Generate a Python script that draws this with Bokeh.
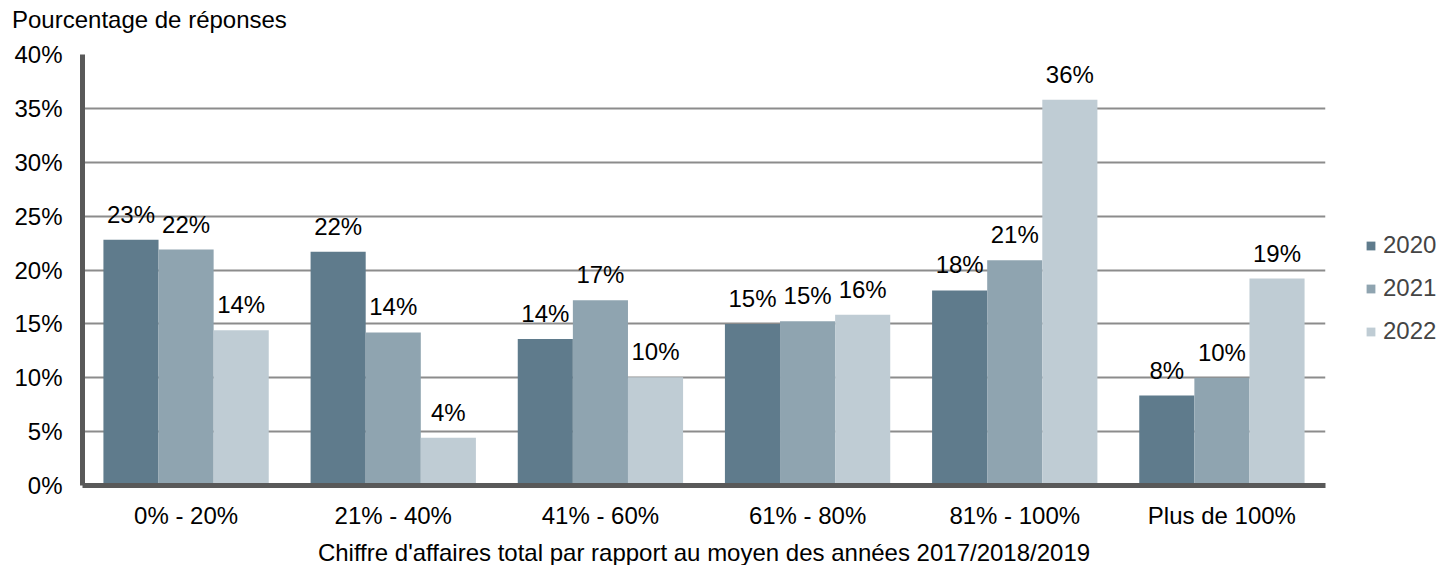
from bokeh.plotting import figure
from bokeh.layouts import column
from bokeh.models import (ColumnDataSource, FactorRange, Range1d, FixedTicker, Div,
                          PrintfTickFormatter, LabelSet, Legend, LegendItem)
from bokeh.core.properties import value
from bokeh.transform import dodge
from bokeh.embed import file_html
from bokeh.resources import INLINE

categories = ["0% - 20%", "21% - 40%", "41% - 60%", "61% - 80%", "81% - 100%", "Plus de 100%"]
years = ["2020", "2021", "2022"]
v2020 = [22.8, 21.7, 13.6, 15.0, 18.1, 8.35]
v2021 = [21.9, 14.2, 17.2, 15.25, 20.9, 10.0]
v2022 = [14.4, 4.44, 10.05, 15.85, 35.8, 19.2]
y_ticks = [0, 5, 10, 15, 20, 25, 30, 35, 40]
title_text = "Pourcentage de réponses"
x_title = "Chiffre d'affaires total par rapport au moyen des années 2017/2018/2019"

colors = ["#5f7b8c", "#8fa4b0", "#bfccd4"]
FONT = "Liberation Sans"
FS = "24px"

series = [v2020, v2021, v2022]
data = {"cat": categories}
for y, vals in zip(years, series):
    data[y] = vals
    data["lab" + y] = [f"{round(v)}%" for v in vals]
src = ColumnDataSource(data)

title_div = Div(text=title_text, width=600, height=40,
                styles={"font-family": FONT, "font-size": FS, "line-height": "40px",
                        "padding-left": "12px", "color": "black", "margin": "0"})

p = figure(x_range=FactorRange(*categories), y_range=Range1d(0, 40),
           frame_width=1243, frame_height=431,
           min_border_left=82, min_border_right=113, min_border_top=14, min_border_bottom=80,
           output_backend="svg", toolbar_location=None)

bw = 0.266
offsets = [-bw, 0, bw]
items = []
for y, off, c in zip(years, offsets, colors):
    r = p.vbar(x=dodge("cat", off, range=p.x_range), top=y, width=bw, source=src,
               fill_color=c, line_color=None)
    items.append(LegendItem(label=y, renderers=[r]))
    ls = LabelSet(x=dodge("cat", off, range=p.x_range), y=y, text="lab" + y, source=src,
                  text_align="center", text_baseline="alphabetic", y_offset=17,
                  text_font=value(FONT), text_font_size=value(FS), text_color="black")
    p.add_layout(ls)

legend = Legend(items=items, location=(40, 140), orientation="vertical",
                glyph_width=11, glyph_height=11, label_height=21, spacing=15,
                label_standoff=7, padding=0, margin=0,
                label_text_font=FONT, label_text_font_size=FS,
                border_line_color=None, background_fill_alpha=0)
p.add_layout(legend, "right")

p.yaxis.ticker = FixedTicker(ticks=y_ticks)
p.yaxis.formatter = PrintfTickFormatter(format="%d%%")
for ax in [p.xaxis[0], p.yaxis[0]]:
    ax.axis_line_color = "#595959"
    ax.axis_line_width = 5
    ax.major_tick_line_color = None
    ax.minor_tick_line_color = None
    ax.major_tick_out = 0
    ax.major_tick_in = 0
    ax.major_label_text_font = FONT
    ax.major_label_text_font_size = FS
    ax.major_label_text_color = "black"
p.yaxis.major_label_standoff = 20
p.xaxis.major_label_standoff = 16
p.xaxis.axis_label = x_title
p.xaxis.axis_label_text_font = FONT
p.xaxis.axis_label_text_font_size = FS
p.xaxis.axis_label_text_font_style = "normal"
p.xaxis.axis_label_text_color = "black"
p.xaxis.axis_label_standoff = 7

p.xgrid.grid_line_color = None
p.ygrid.ticker = FixedTicker(ticks=y_ticks)
p.ygrid.grid_line_color = "#8c8c8c"
p.ygrid.grid_line_width = 2
p.outline_line_color = None
p.background_fill_color = "white"

layout = column(title_div, p, spacing=0)
open("out.html", "w").write(file_html(layout, INLINE))
